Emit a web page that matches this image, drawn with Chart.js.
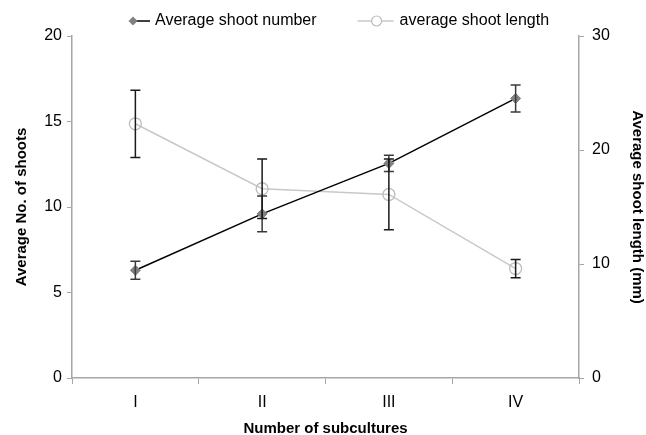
<!DOCTYPE html>
<html>
<head>
<meta charset="utf-8">
<script src="https://cdn.jsdelivr.net/npm/chart.js@4.4.1/dist/chart.umd.min.js"></script>
<style>
  html, body { margin: 0; padding: 0; background: #fff; }
</style>
</head>
<body>
<canvas id="myChart" width="646" height="435"></canvas>
<script>
// data
var categories = ['I', 'II', 'III', 'IV'];
var shootNumber = [6.3, 9.6, 12.55, 16.35];
var shootNumberErr = [0.53, 1.05, 0.47, 0.79];
var shootLength = [22.3, 16.6, 16.1, 9.6];
var shootLengthErr = [2.95, 2.6, 3.1, 0.8];
var numberTicks = [0, 5, 10, 15, 20];
var lengthTicks = [0, 10, 20, 30];

var font = 'Liberation Sans, Arial, sans-serif';

function diamond(g, x, y, r, color) {
    g.fillStyle = color;
    g.beginPath();
    g.moveTo(x, y - r); g.lineTo(x + r, y); g.lineTo(x, y + r); g.lineTo(x - r, y);
    g.closePath();
    g.fill();
}
function ring(g, x, y, r, color) {
    g.fillStyle = '#fff';
    g.strokeStyle = color;
    g.lineWidth = 1.2;
    g.beginPath();
    g.arc(x, y, r, 0, Math.PI * 2);
    g.fill();
    g.stroke();
}

// error bars, drawn through each dataset's own y scale
var errorBars = {
    id: 'errorBars',
    afterDatasetsDraw: function (chart) {
        var ctx = chart.ctx;
        chart.data.datasets.forEach(function (ds, i) {
            var meta = chart.getDatasetMeta(i);
            var scale = chart.scales[ds.yAxisID];
            ctx.save();
            ctx.strokeStyle = ds.errColor;
            ctx.lineWidth = 1.5;
            meta.data.forEach(function (pt, j) {
                var v = ds.data[j], e = ds.errors[j];
                var yt = scale.getPixelForValue(v + e);
                var yb = scale.getPixelForValue(v - e);
                ctx.beginPath();
                ctx.moveTo(pt.x, yt); ctx.lineTo(pt.x, yb);
                ctx.moveTo(pt.x - 5, yt); ctx.lineTo(pt.x + 5, yt);
                ctx.moveTo(pt.x - 5, yb); ctx.lineTo(pt.x + 5, yb);
                ctx.stroke();
            });
            ctx.restore();
        });
    }
};

// legend like the original: line with marker, then the label
var lineLegend = {
    id: 'lineLegend',
    afterDraw: function (chart) {
        var ctx = chart.ctx;
        var ds = chart.data.datasets;
        var y = 21;
        ctx.save();
        ctx.font = '16px ' + font;
        ctx.textBaseline = 'middle';
        var x = 128;
        // first entry
        ctx.strokeStyle = ds[0].borderColor;
        ctx.lineWidth = 1.5;
        ctx.beginPath(); ctx.moveTo(x + 5, y); ctx.lineTo(x + 22, y); ctx.stroke();
        diamond(ctx, x + 5, y, 4.5, '#808080');
        x += 27;
        ctx.fillStyle = '#000';
        ctx.fillText(ds[0].label, x, y);
        x += ctx.measureText(ds[0].label).width + 41;
        // second entry
        ctx.strokeStyle = ds[1].borderColor;
        ctx.lineWidth = 1.5;
        ctx.beginPath(); ctx.moveTo(x, y); ctx.lineTo(x + 36, y); ctx.stroke();
        ring(ctx, x + 19, y, 5, '#bdbdbd');
        x += 42;
        ctx.fillStyle = '#000';
        ctx.fillText(ds[1].label, x, y);
        ctx.restore();
    }
};

var ctx = document.getElementById('myChart');
var myChart = new Chart(ctx, {
    type: 'line',
    data: {
        labels: categories,
        datasets: [
            {
                label: 'Average shoot number',
                data: shootNumber,
                errors: shootNumberErr,
                errColor: '#3a3a3a',
                yAxisID: 'y',
                borderColor: '#000',
                borderWidth: 1.5,
                pointStyle: 'rectRot',
                pointRadius: 5,
                pointBackgroundColor: '#808080',
                pointBorderColor: '#808080',
                pointBorderWidth: 1
            },
            {
                label: 'average shoot length',
                data: shootLength,
                errors: shootLengthErr,
                errColor: '#1a1a1a',
                yAxisID: 'y1',
                borderColor: '#c8c8c8',
                borderWidth: 1.5,
                pointStyle: 'circle',
                pointRadius: 6,
                pointBackgroundColor: 'rgba(255,255,255,0)',
                pointBorderColor: '#bdbdbd',
                pointBorderWidth: 1.3
            }
        ]
    },
    options: {
        responsive: false,
        animation: false,
        layout: { padding: { top: 36 } },
        plugins: {
            tooltip: { enabled: false },
            legend: { display: false }
        },
        scales: {
            x: {
                offset: true,
                grid: { display: true, drawOnChartArea: false, offset: true, tickLength: 6, color: '#a6a6a6' },
                border: { color: '#a6a6a6', width: 1.5 },
                ticks: { color: '#000', padding: 9, font: { family: font, size: 16 } },
                title: {
                    display: true,
                    text: 'Number of subcultures',
                    color: '#000',
                    font: { family: font, size: 15, weight: 'bold', lineHeight: 0.8 },
                    padding: { top: 0, bottom: 0 }
                },
                afterFit: function (s) { s.height = 57; }
            },
            y: {
                position: 'left',
                min: 0,
                max: 20,
                afterBuildTicks: function (s) { s.ticks = numberTicks.map(function (v) { return { value: v }; }); },
                grid: { display: true, drawOnChartArea: false, tickLength: 5, color: '#a6a6a6' },
                border: { color: '#a6a6a6', width: 1.5 },
                ticks: { color: '#000', padding: 5, font: { family: font, size: 16 } },
                title: {
                    display: true,
                    text: 'Average No. of shoots',
                    color: '#000',
                    font: { family: font, size: 15, weight: 'bold', lineHeight: 1.2 },
                    padding: { top: 13, bottom: 0 }
                },
                afterFit: function (s) { s.width = 72; }
            },
            y1: {
                position: 'right',
                min: 0,
                max: 30,
                afterBuildTicks: function (s) { s.ticks = lengthTicks.map(function (v) { return { value: v }; }); },
                grid: { display: true, drawOnChartArea: false, tickLength: 5, color: '#a6a6a6' },
                border: { color: '#a6a6a6', width: 1.5 },
                ticks: { color: '#000', padding: 8, font: { family: font, size: 16 } },
                title: {
                    display: true,
                    text: 'Average shoot length (mm)',
                    color: '#000',
                    font: { family: font, size: 15, weight: 'bold', lineHeight: 1.2 },
                    padding: { top: 0, bottom: 0 }
                },
                afterFit: function (s) { s.width = 67; }
            }
        }
    },
    plugins: [errorBars, lineLegend]
});
</script>
</body>
</html>
